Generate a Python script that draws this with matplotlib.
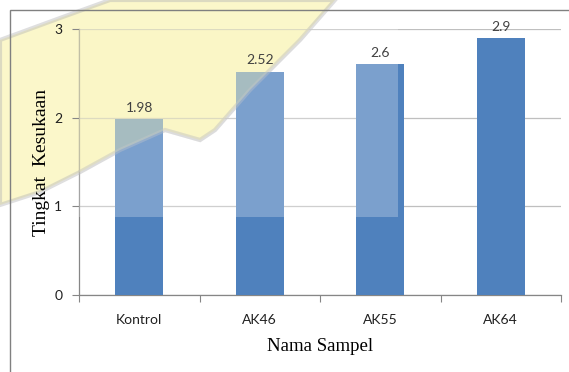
import matplotlib
matplotlib.use("Agg")
import matplotlib.pyplot as plt
from matplotlib.patches import Rectangle, Polygon

categories = ["Kontrol", "AK46", "AK55", "AK64"]
values = [1.98, 2.52, 2.6, 2.9]
yticks = [0, 1, 2, 3]

W, H = 569, 372
fig = plt.figure(figsize=(W / 100, H / 100), dpi=100)
ax = fig.add_axes([79 / W, 1 - 295 / H, (561 - 79) / W, (295 - 29) / H])
ax.patch.set_alpha(0)

bar_color = "#4F81BD"
x = list(range(len(categories)))
ax.bar(x, values, width=0.4, color=bar_color, zorder=3)
for xi, v in zip(x, values):
    ax.text(xi, v + 0.06, f"{v:g}", ha="center", va="bottom", fontsize=10,
            family="Lato", color="#404040", zorder=6)

ax.set_xlim(-0.5, len(categories) - 0.5)
ax.set_ylim(0, 3)
ax.set_yticks(yticks)
ax.set_yticklabels([str(t) for t in yticks], family="Lato", fontsize=10, color="#202020")
ax.set_xticks(x)
ax.set_xticklabels(categories, family="Lato", fontsize=10, color="#202020")
ax.tick_params(axis="x", length=0, pad=14)
ax.set_xticks([i - 0.5 for i in range(len(categories) + 1)], minor=True)
ax.tick_params(axis="x", which="minor", length=5, color="#868686", width=0.8)
ax.tick_params(axis="y", length=5, color="#868686", width=0.8, pad=7)
ax.yaxis.grid(True, color="#BFBFBF", linewidth=0.9, zorder=0)
for s in ["top", "right"]:
    ax.spines[s].set_visible(False)
for s in ["left", "bottom"]:
    ax.spines[s].set_color("#868686")
    ax.spines[s].set_linewidth(0.9)

ax.set_xlabel("Nama Sampel", family="Liberation Serif", fontsize=13.5, labelpad=8)
ax.set_ylabel("Tingkat  Kesukaan", family="Liberation Serif", fontsize=14, labelpad=3)

# outer chart frame (partially visible)
fig.patches.append(Rectangle((10 / W, -0.1), 1.2, 1 - 10 / H + 0.1, transform=fig.transFigure,
                             fill=False, edgecolor="#808080", linewidth=1.0, zorder=10))

# watermark approximation
def px(pts):
    return [(a / W, 1 - b / H) for a, b in pts]

wm = px([(0, 40), (60, 18), (110, 0), (335, 0), (300, 40), (250, 90),
         (215, 130), (200, 140), (165, 130), (120, 150), (80, 172),
         (40, 192), (0, 205)])
fig.patches.append(Polygon(wm, closed=True, transform=fig.transFigure, facecolor="#F7EE8A",
                           alpha=0.45, edgecolor="#B8B8B8", linewidth=3, zorder=-1))
ax.add_patch(Polygon(wm, closed=True, transform=fig.transFigure, facecolor="#F7EE8A",
                     alpha=0.35, edgecolor="#B8B8B8", linewidth=3, zorder=4,
                     clip_path=ax.patch))
ax.add_patch(Rectangle((0, 1 - 217 / H), 398 / W, 217 / H, transform=fig.transFigure,
                       facecolor="white", alpha=0.25, edgecolor="none", zorder=4,
                       clip_path=ax.patch))

fig.savefig("out.png", dpi=100)
